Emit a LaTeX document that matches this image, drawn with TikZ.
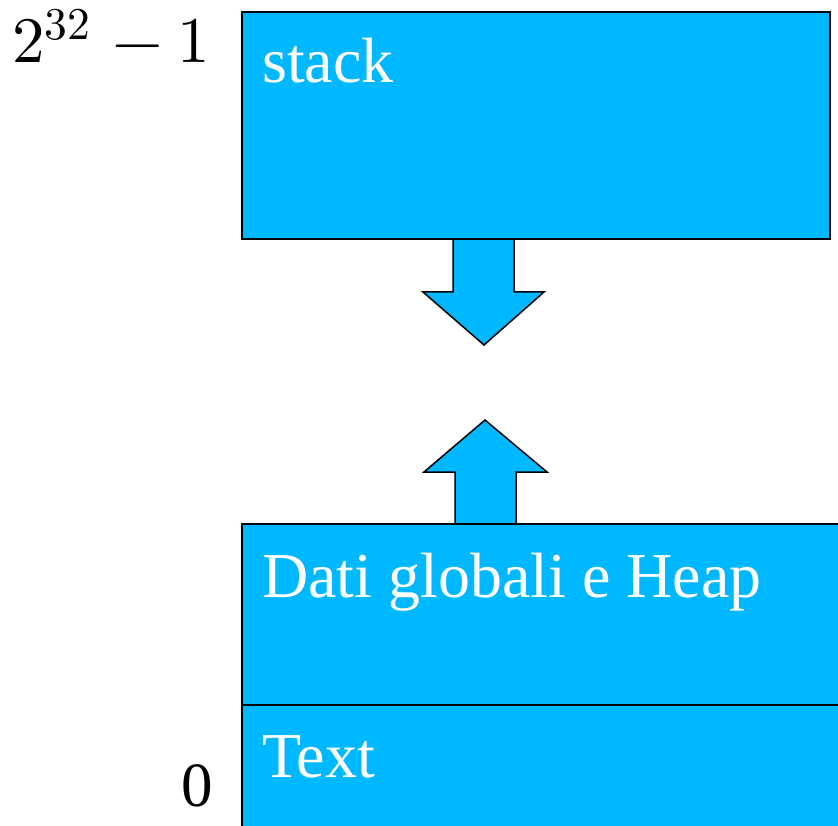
\documentclass[tikz,border=0pt]{standalone}
\usepackage{fontspec}
\usepackage{unicode-math}
\setmainfont{Liberation Serif}
\setmathfont{Latin Modern Math}
\definecolor{memblue}{RGB}{0,184,255}
\begin{document}
\begin{tikzpicture}[x=1pt,y=-1pt,line join=miter]
	% stili
	\tikzset{seg/.style={draw=black,fill=memblue,line width=1.5pt},
		lbl/.style={anchor=base west,text=white,inner sep=0pt,font=\fontsize{64}{70}\selectfont},
		addr/.style={anchor=base east,inner sep=0pt,font=\fontsize{63}{70}\selectfont}}
	\useasboundingbox (0,0) rectangle (838,826);
	\clip (0,0) rectangle (838,826);
	% segmenti di memoria
	\draw [seg] (242,12) rectangle (830,239);
	\draw [seg] (242,524) rectangle (850,705);
	\draw [seg] (242,705) rectangle (850,840);
	% frecce
	\draw [seg] (453,239)--(453,292)--(423,292)--(484,345)--(544,292)--(514,292)--(514,239)--cycle;
	\draw [seg] (455,524)--(455,472)--(424,472)--(485,420)--(547,472)--(516,472)--(516,524)--cycle;
	\draw [black,line width=1.5pt] (242,239)--(830,239) (242,524)--(850,524);
	% etichette
	\node (stack) [lbl] at (262,83) {stack};
	\node (heap) [lbl] at (262,597) {Dati globali e Heap};
	\node (text) [lbl] at (262,777) {Text};
	\node (top) [addr,font=\fontsize{65}{70}\selectfont] at (210,63) {$2^{32}\mkern2mu-1$};
	\node (zero) [addr] at (213,806) {0};
\end{tikzpicture}
\end{document}
